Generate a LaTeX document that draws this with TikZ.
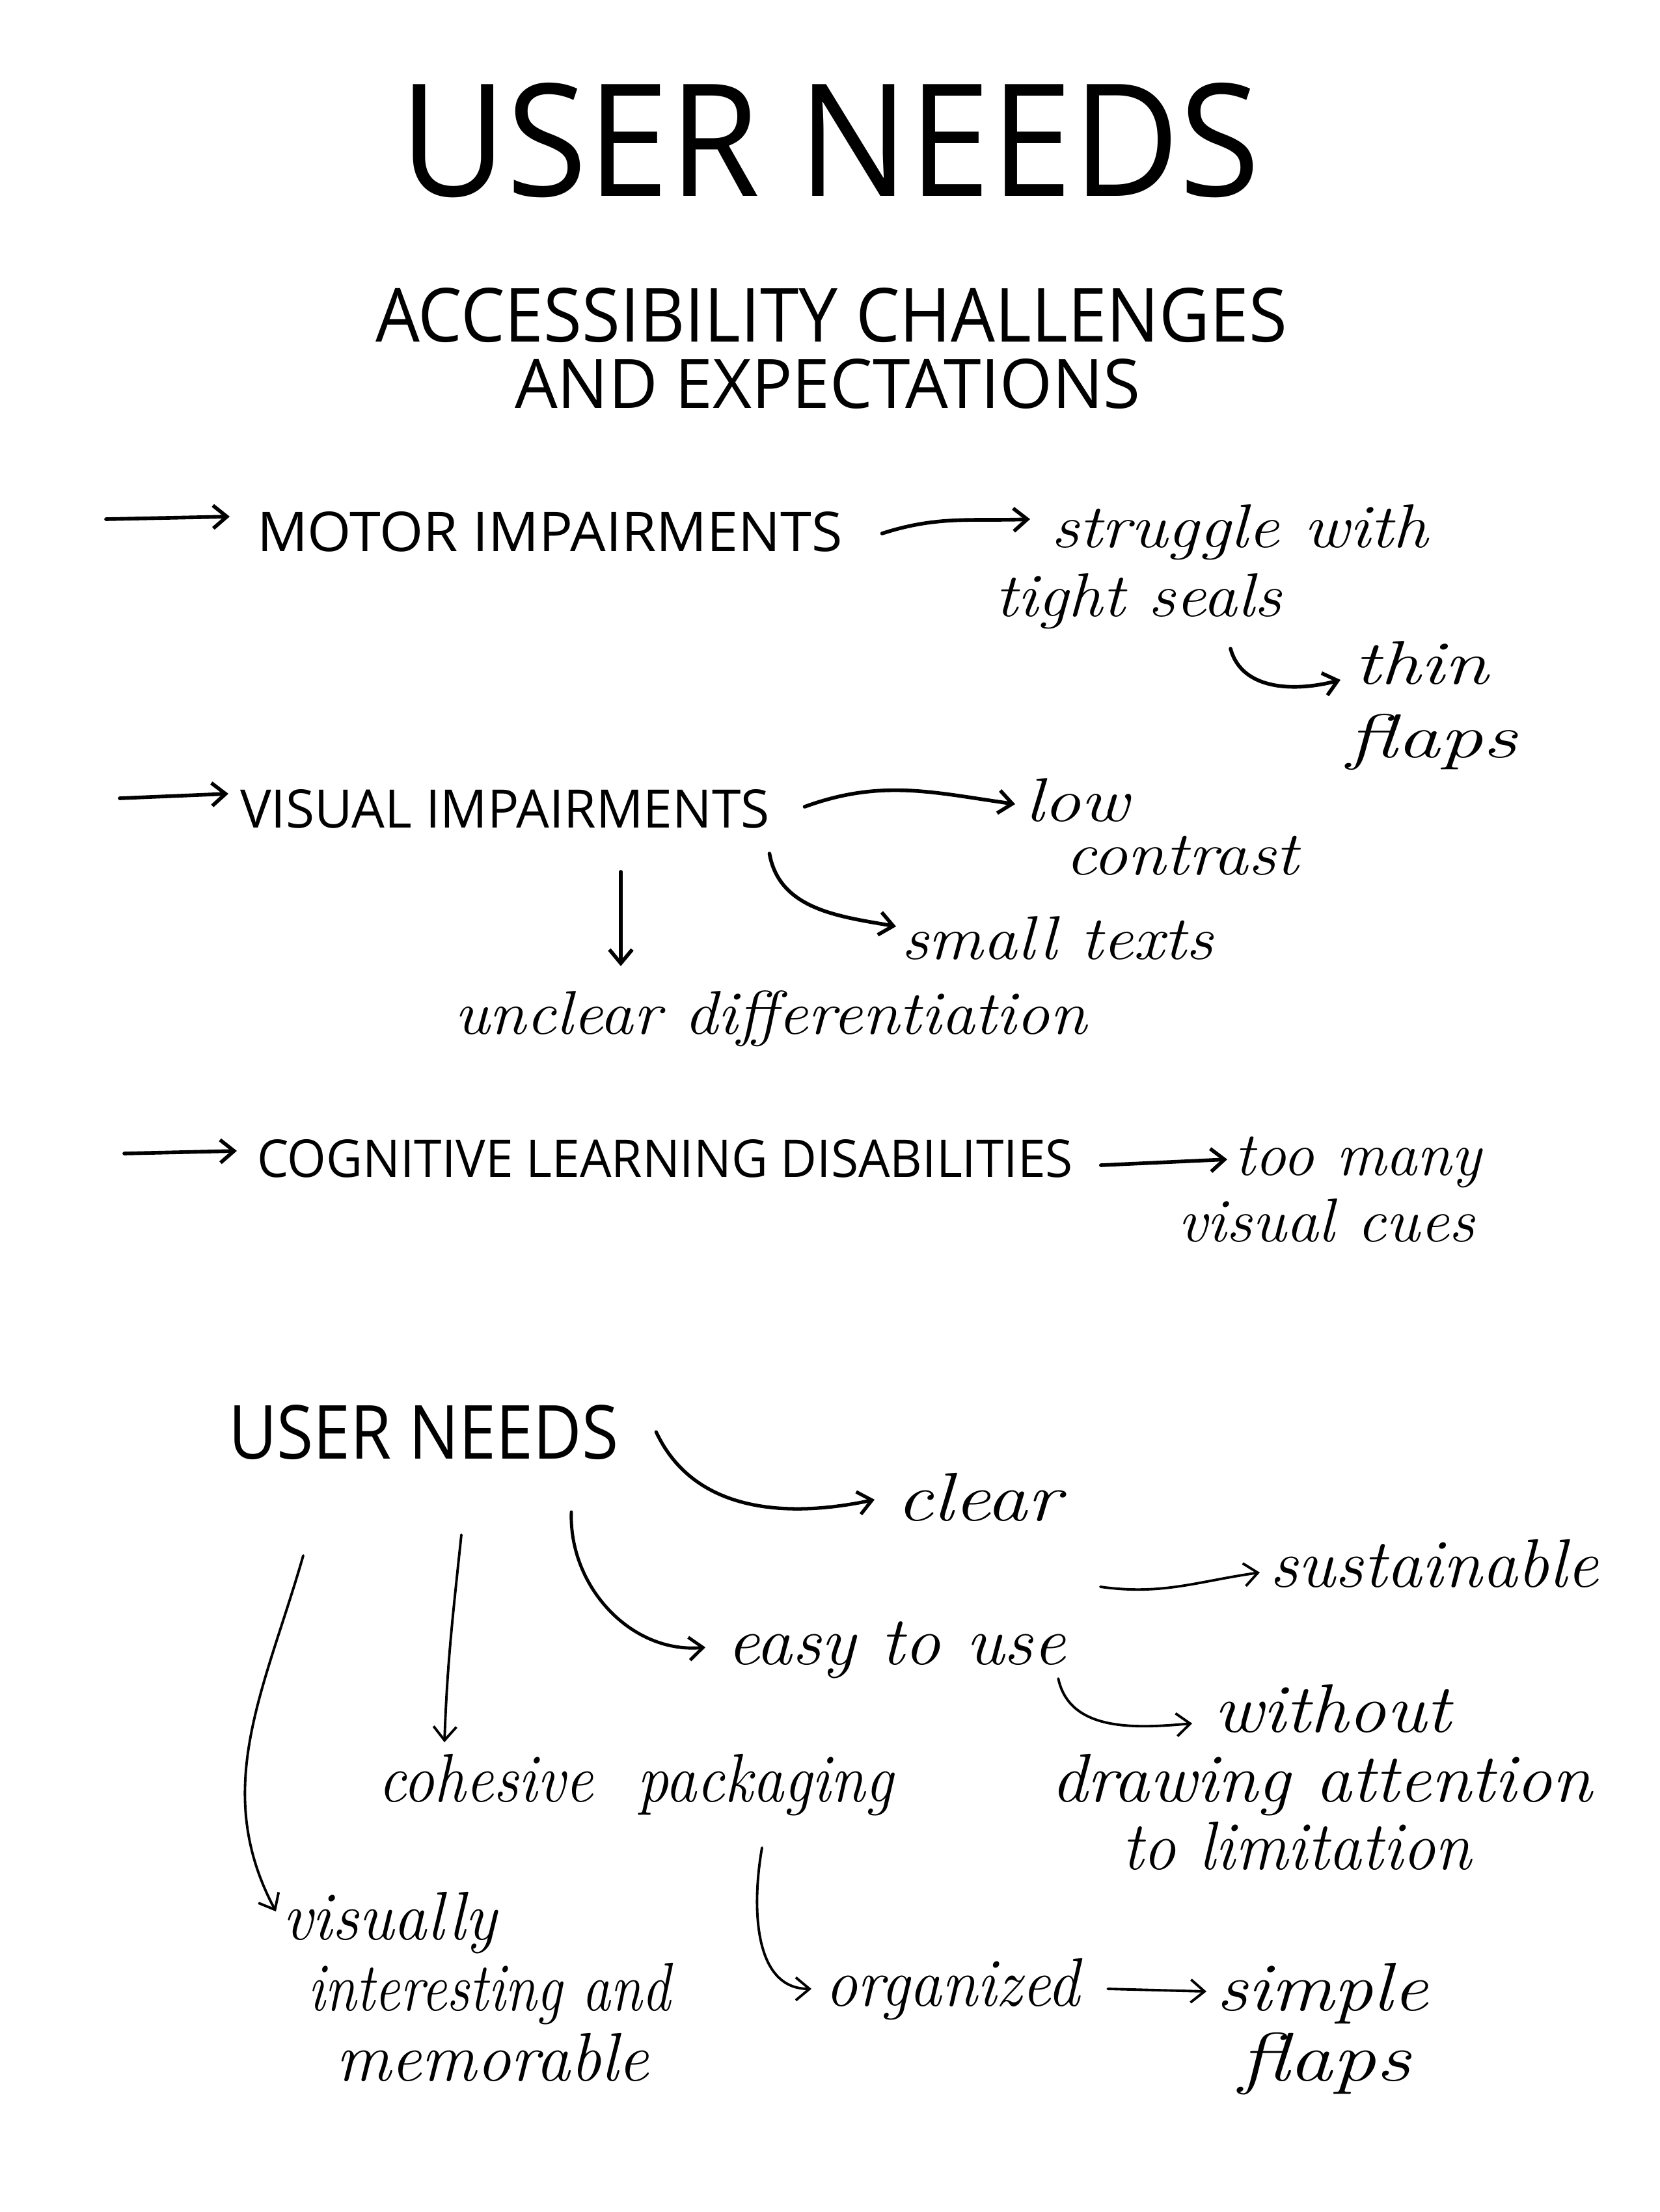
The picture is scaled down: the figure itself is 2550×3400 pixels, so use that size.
\documentclass[tikz,border=0pt]{standalone}
\usepackage{fontspec}
\usepackage{graphicx}
\newfontfamily\capsf{Open Sans}
\usetikzlibrary{arrows.meta,calc}
\newcommand\capt[3]{\resizebox{#1cm}{#2cm}{\capsf #3}}
\newcommand\cursz{27}
\newcommand\cur[2]{\resizebox{#1cm}{\height}{\fontsize{\cursz}{\cursz}\selectfont\itshape #2}}
\tikzset{
  capnode/.style={inner sep=0pt,outer sep=0pt,anchor=south west},
  curnode/.style={inner sep=0pt,outer sep=0pt,anchor=base west},
  arr/.style={-{Straight Barb[length=6pt,width=10pt]},line width=1.6pt,line cap=round,line join=round},
  arrthin/.style={arr,line width=1.1pt}
}
\begin{document}
\begin{tikzpicture}[x=0.01cm,y=0.01cm]
\fill[white] (0,0) rectangle (2550,-3400);
\useasboundingbox (0,0) rectangle (2550,-3400);
% headings
\node[capnode] (title) at (614,-304) {\capt{13.22}{1.74}{USER NEEDS}};
\node[capnode] (sub1) at (577,-527) {\capt{14.00}{0.83}{ACCESSIBILITY CHALLENGES}};
\node[capnode] (sub2) at (791,-629) {\capt{9.61}{0.76}{AND EXPECTATIONS}};
% challenges
\node[capnode] (motor) at (395,-848) {\capt{8.99}{0.61}{MOTOR IMPAIRMENTS}};
\node[capnode] (visual) at (369,-1273) {\capt{8.13}{0.59}{VISUAL IMPAIRMENTS}};
\node[capnode] (cog) at (395,-1810) {\capt{12.53}{0.58}{COGNITIVE LEARNING DISABILITIES}};
\node[capnode] (un) at (351,-2244) {\capt{5.99}{0.83}{USER NEEDS}};
% cursive texts, upper part
\node[curnode] (strug) at (1615,-841) {\cur{5.79}{struggle with}};
\node[curnode] (tight) at (1529,-947) {\cur{4.40}{tight seals}};
\node[curnode] (thin) at (2081,-1051) {\cur{2.06}{thin}};
\node[curnode] (flapsA) at (2070,-1164) {\cur{2.61}{flaps}};
\node[curnode] (low) at (1575,-1262) {\cur{1.60}{low}};
\node[curnode] (contrast) at (1637,-1344) {\cur{3.58}{contrast}};
\node[curnode] (small) at (1385,-1474) {\cur{4.79}{small texts}};
\node[curnode] (unclear) at (698,-1589) {\cur{9.71}{unclear differentiation}};
\node[curnode] (toomany) at (1897,-1806) {\cur{3.79}{too many}};
\node[curnode] (viscues) at (1810,-1908) {\cur{4.56}{visual cues}};
% cursive texts, lower part
\renewcommand\cursz{30}
\node[curnode] (clear) at (1377,-2337) {\cur{2.53}{clear}};
\node[curnode] (sust) at (1951,-2439) {\cur{5.05}{sustainable}};
\node[curnode] (easy) at (1117,-2558) {\cur{5.20}{easy to use}};
\node[curnode] (without) at (1865,-2662) {\cur{3.64}{without}};
\node[curnode] (drawing) at (1615,-2769) {\cur{8.31}{drawing attention}};
\node[curnode] (tolim) at (1724,-2873) {\cur{5.37}{to limitation}};
\node[curnode] (cohesive) at (581,-2769) {\cur{7.91}{cohesive\ \ packaging}};
\node[curnode] (visually) at (434,-2981) {\cur{3.29}{visually}};
\node[curnode] (interesting) at (473,-3090) {\cur{5.57}{interesting and}};
\node[curnode] (memorable) at (516,-3198) {\cur{4.81}{memorable}};
\node[curnode] (organized) at (1268,-3083) {\cur{3.91}{organized}};
\node[curnode] (simple) at (1869,-3090) {\cur{3.25}{simple}};
\node[curnode] (flapsB) at (1904,-3198) {\cur{2.64}{flaps}};
% free bullet starts
\coordinate (s1) at (163,-798);
\coordinate (s4) at (184,-1227);
\coordinate (s8) at (191,-1773);
% connectors upper
\draw[arr] (s1) -- ($(motor.south west)+(-42,54)$);
\draw[arr] ($(motor.south east)+(61,28)$) to[out=18,in=182] ($(strug.base west)+(-32,43)$);
\draw[arr] ($(tight.base west)+(362,-50)$) to[out=-75,in=195] ($(thin.base west)+(-21,6)$);
\draw[arr] (s4) -- ($(visual.south west)+(-18,53)$);
\draw[arr] ($(visual.south east)+(54,33)$) to[out=20,in=172] ($(low.base west)+(-15,26)$);
\draw[arr] ($(visual.south east)+(0,-39)$) to[out=-80,in=170] ($(small.base west)+(-8,50)$);
\draw[arr] ($(visual.south west)+(585,-67)$) -- ($(unclear.base west)+(256,104)$);
\draw[arr] (s8) -- ($(cog.south west)+(-31,41)$);
\draw[arr] ($(cog.south east)+(43,19)$) -- ($(toomany.base west)+(-11,24)$);
% connectors lower
\draw[arr,line width=1.5pt] ($(un.south east)+(58,43)$) to[out=-65,in=192] ($(clear.base west)+(-33,32)$);
\draw[arrthin] ($(sust.base west)+(-260,0)$) to[out=-8,in=188] ($(sust.base west)+(-15,22)$);
\draw[arr,line width=1.4pt] ($(un.south west)+(527,-80)$) to[out=-92,in=185] ($(easy.base west)+(-33,26)$);
\draw[arrthin] ($(easy.base east)+(-11,-22)$) to[out=-78,in=185] ($(without.base west)+(-33,13)$);
\draw[arrthin] ($(un.south west)+(358,-115)$) to[out=-96,in=88] ($(cohesive.base west)+(102,91)$);
\draw[arrthin] ($(un.south west)+(115,-147)$) to[out=-106,in=118] ($(visually.base west)+(-10,43)$);
\draw[arrthin] ($(cohesive.base west)+(590,-71)$) to[out=-100,in=180] ($(organized.base west)+(-21,26)$);
\draw[arrthin] ($(organized.base east)+(43,26)$) -- ($(simple.base west)+(-15,29)$);
\end{tikzpicture}
\end{document}
